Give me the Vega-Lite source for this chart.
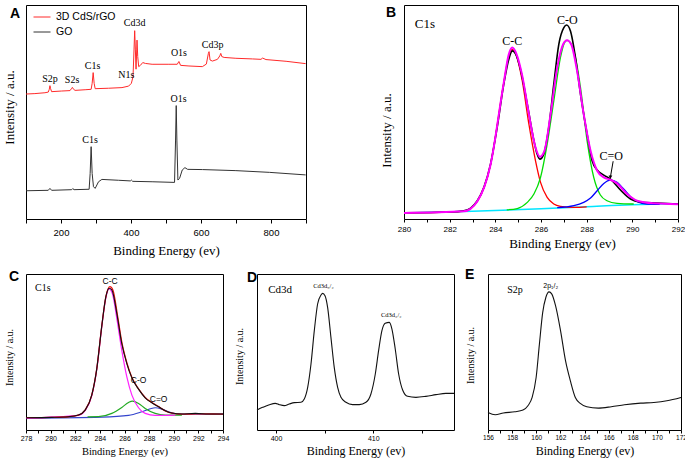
{
"$schema": "https://vega.github.io/schema/vega-lite/v6.json",
"background": "white",
"padding": {"left": 2, "top": 4, "right": 3, "bottom": 0},
"config": {
  "view": {"stroke": "#000", "strokeWidth": 1},
  "axis": {"domain": false, "grid": false, "tickColor": "#000", "tickWidth": 1, "labelColor": "#000", "titleColor": "#000", "titleFont": "Liberation Serif", "titleFontWeight": "normal", "labelFont": "Liberation Sans", "labelFlush": false, "labelOverlap": false},
  "axisY": {"ticks": false, "labels": false, "tickSize": 0, "labelPadding": 0},
  "title": {"font": "Liberation Sans", "fontSize": 14, "fontWeight": "bold", "color": "#000", "anchor": "start", "frame": "group", "orient": "top", "baseline": "top", "offset": 0}
},
"datasets": {
  "a": [
    {"x":100,"y":58.4,"s":"3D CdS/rGO"},{"x":125.4,"y":58.6,"s":"3D CdS/rGO"},{"x":154.1,"y":59.0,"s":"3D CdS/rGO"},{"x":163.6,"y":59.3,"s":"3D CdS/rGO"},{"x":166.5,"y":60.6,"s":"3D CdS/rGO"},{"x":168.4,"y":62.3,"s":"3D CdS/rGO"},{"x":170.3,"y":60.9,"s":"3D CdS/rGO"},{"x":173.2,"y":59.5,"s":"3D CdS/rGO"},{"x":201.9,"y":59.8,"s":"3D CdS/rGO"},{"x":225.8,"y":60.0,"s":"3D CdS/rGO"},{"x":229.7,"y":60.9,"s":"3D CdS/rGO"},{"x":232.5,"y":61.5,"s":"3D CdS/rGO"},{"x":235.4,"y":60.7,"s":"3D CdS/rGO"},{"x":240.2,"y":60.1,"s":"3D CdS/rGO"},{"x":268.9,"y":60.4,"s":"3D CdS/rGO"},{"x":286.1,"y":60.6,"s":"3D CdS/rGO"},{"x":289.0,"y":63.4,"s":"3D CdS/rGO"},{"x":291.9,"y":68.4,"s":"3D CdS/rGO"},{"x":294.7,"y":63.4,"s":"3D CdS/rGO"},{"x":297.6,"y":60.9,"s":"3D CdS/rGO"},{"x":335.9,"y":61.1,"s":"3D CdS/rGO"},{"x":374.2,"y":61.4,"s":"3D CdS/rGO"},{"x":393.3,"y":62.1,"s":"3D CdS/rGO"},{"x":401.0,"y":63.4,"s":"3D CdS/rGO"},{"x":405.8,"y":66.5,"s":"3D CdS/rGO"},{"x":408.6,"y":79.0,"s":"3D CdS/rGO"},{"x":410.5,"y":88.0,"s":"3D CdS/rGO"},{"x":412.5,"y":79.0,"s":"3D CdS/rGO"},{"x":414.4,"y":70.0,"s":"3D CdS/rGO"},{"x":416.3,"y":79.0,"s":"3D CdS/rGO"},{"x":417.2,"y":83.6,"s":"3D CdS/rGO"},{"x":419.2,"y":75.9,"s":"3D CdS/rGO"},{"x":422.0,"y":71.2,"s":"3D CdS/rGO"},{"x":426.8,"y":71.8,"s":"3D CdS/rGO"},{"x":433.5,"y":73.1,"s":"3D CdS/rGO"},{"x":441.2,"y":72.7,"s":"3D CdS/rGO"},{"x":460.3,"y":72.3,"s":"3D CdS/rGO"},{"x":508.2,"y":72.3,"s":"3D CdS/rGO"},{"x":532.1,"y":72.3,"s":"3D CdS/rGO"},{"x":536.9,"y":73.6,"s":"3D CdS/rGO"},{"x":541.6,"y":71.8,"s":"3D CdS/rGO"},{"x":565.6,"y":71.5,"s":"3D CdS/rGO"},{"x":603.9,"y":71.2,"s":"3D CdS/rGO"},{"x":615.3,"y":72.4,"s":"3D CdS/rGO"},{"x":621.1,"y":77.4,"s":"3D CdS/rGO"},{"x":623.0,"y":78.2,"s":"3D CdS/rGO"},{"x":625.9,"y":74.3,"s":"3D CdS/rGO"},{"x":632.6,"y":73.8,"s":"3D CdS/rGO"},{"x":647.0,"y":74.6,"s":"3D CdS/rGO"},{"x":653.7,"y":76.2,"s":"3D CdS/rGO"},{"x":656.5,"y":77.4,"s":"3D CdS/rGO"},{"x":659.4,"y":75.9,"s":"3D CdS/rGO"},{"x":666.1,"y":75.5,"s":"3D CdS/rGO"},{"x":699.6,"y":75.1,"s":"3D CdS/rGO"},{"x":747.4,"y":74.8,"s":"3D CdS/rGO"},{"x":771.3,"y":74.6,"s":"3D CdS/rGO"},{"x":776.1,"y":75.2,"s":"3D CdS/rGO"},{"x":785.7,"y":74.5,"s":"3D CdS/rGO"},{"x":843.1,"y":73.7,"s":"3D CdS/rGO"},{"x":899,"y":72.6,"s":"3D CdS/rGO"},
    {"x":100,"y":13.2,"s":"GO"},{"x":163.6,"y":13.4,"s":"GO"},{"x":168.4,"y":14.3,"s":"GO"},{"x":173.2,"y":13.4,"s":"GO"},{"x":230.6,"y":13.7,"s":"GO"},{"x":233.5,"y":14.2,"s":"GO"},{"x":237.3,"y":13.7,"s":"GO"},{"x":280.4,"y":13.9,"s":"GO"},{"x":283.3,"y":21.3,"s":"GO"},{"x":286.1,"y":33.8,"s":"GO"},{"x":289.0,"y":21.3,"s":"GO"},{"x":292.8,"y":15.1,"s":"GO"},{"x":297.6,"y":14.3,"s":"GO"},{"x":307.2,"y":17.4,"s":"GO"},{"x":316.8,"y":18.5,"s":"GO"},{"x":364.6,"y":18.1,"s":"GO"},{"x":398.1,"y":17.8,"s":"GO"},{"x":401.0,"y":18.2,"s":"GO"},{"x":404.8,"y":17.6,"s":"GO"},{"x":460.3,"y":17.4,"s":"GO"},{"x":524.4,"y":17.1,"s":"GO"},{"x":527.3,"y":36.9,"s":"GO"},{"x":529.2,"y":53.0,"s":"GO"},{"x":531.1,"y":36.9,"s":"GO"},{"x":534.0,"y":18.2,"s":"GO"},{"x":538.8,"y":19.0,"s":"GO"},{"x":546.4,"y":22.9,"s":"GO"},{"x":554.1,"y":24.0,"s":"GO"},{"x":561.7,"y":23.2,"s":"GO"},{"x":603.9,"y":23.1,"s":"GO"},{"x":699.6,"y":22.6,"s":"GO"},{"x":795.3,"y":21.8,"s":"GO"},{"x":899,"y":20.6,"s":"GO"}
  ],
  "a_lab": [
    {"x":168.4,"y":65.4,"t":"S2p"},{"x":231.6,"y":64.8,"t":"S2s"},{"x":290,"y":71.3,"t":"C1s"},{"x":386.6,"y":67.1,"t":"N1s"},{"x":410.5,"y":91.4,"t":"Cd3d"},{"x":537,"y":77.4,"t":"O1s"},{"x":633.4,"y":81.3,"t":"Cd3p"},{"x":283.3,"y":36.8,"t":"C1s"},{"x":535.9,"y":56.0,"t":"O1s"}
  ],
  "b": [
    {"x":280,"y":2.8,"s":"base"},{"x":283,"y":3.6,"s":"base"},{"x":286,"y":4.8,"s":"base"},{"x":288,"y":5.75,"s":"base"},{"x":290,"y":6.69,"s":"base"},{"x":292,"y":7.15,"s":"base"},
    {"x":280,"y":2.8,"s":"cc"},{"x":282.62,"y":3.58,"s":"cc"},{"x":283.21,"y":8.24,"s":"cc"},{"x":283.79,"y":25.35,"s":"cc"},{"x":284.37,"y":63.76,"s":"cc"},{"x":284.59,"y":76.2,"s":"cc"},{"x":284.74,"y":79.3,"s":"cc"},{"x":284.93,"y":76.2,"s":"cc"},{"x":285.18,"y":64.5,"s":"cc"},{"x":285.47,"y":44.3,"s":"cc"},{"x":285.76,"y":27.2,"s":"cc"},{"x":285.98,"y":17.1,"s":"cc"},{"x":286.27,"y":10.1,"s":"cc"},{"x":286.56,"y":7.0,"s":"cc"},{"x":286.85,"y":5.9,"s":"cc"},{"x":287.44,"y":5.4,"s":"cc"},{"x":288.0,"y":5.7,"s":"cc"},
    {"x":284.5,"y":4.3,"s":"co"},{"x":284.96,"y":4.9,"s":"co"},{"x":285.40,"y":7.78,"s":"co"},{"x":285.69,"y":11.66,"s":"co"},{"x":285.98,"y":19.44,"s":"co"},{"x":286.27,"y":34.99,"s":"co"},{"x":286.56,"y":55.21,"s":"co"},{"x":286.85,"y":75.43,"s":"co"},{"x":287.03,"y":82.43,"s":"co"},{"x":287.14,"y":83.51,"s":"co"},{"x":287.29,"y":82.43,"s":"co"},{"x":287.51,"y":75.43,"s":"co"},{"x":287.73,"y":61.43,"s":"co"},{"x":288.02,"y":36.55,"s":"co"},{"x":288.31,"y":19.44,"s":"co"},{"x":288.60,"y":11.2,"s":"co"},{"x":288.89,"y":8.55,"s":"co"},{"x":289.33,"y":7.31,"s":"co"},{"x":290.06,"y":7.0,"s":"co"},
    {"x":286.71,"y":5.29,"s":"ceo"},{"x":287.44,"y":6.22,"s":"ceo"},{"x":287.87,"y":7.78,"s":"ceo"},{"x":288.17,"y":9.8,"s":"ceo"},{"x":288.46,"y":13.22,"s":"ceo"},{"x":288.75,"y":16.64,"s":"ceo"},{"x":289.04,"y":18.2,"s":"ceo"},{"x":289.33,"y":17.1,"s":"ceo"},{"x":289.62,"y":14.0,"s":"ceo"},{"x":289.92,"y":10.42,"s":"ceo"},{"x":290.21,"y":8.09,"s":"ceo"},{"x":290.64,"y":7.0,"s":"ceo"},{"x":291.2,"y":6.9,"s":"ceo"},
    {"x":280,"y":2.95,"s":"exp"},{"x":282.04,"y":3.27,"s":"exp"},{"x":282.62,"y":3.89,"s":"exp"},{"x":282.92,"y":5.13,"s":"exp"},{"x":283.21,"y":8.55,"s":"exp"},{"x":283.5,"y":14.77,"s":"exp"},{"x":283.79,"y":25.66,"s":"exp"},{"x":284.08,"y":42.77,"s":"exp"},{"x":284.37,"y":62.99,"s":"exp"},{"x":284.59,"y":74.65,"s":"exp"},{"x":284.74,"y":78.54,"s":"exp"},{"x":284.88,"y":77.29,"s":"exp"},{"x":285.1,"y":69.98,"s":"exp"},{"x":285.4,"y":53.65,"s":"exp"},{"x":285.69,"y":36.55,"s":"exp"},{"x":285.83,"y":30.33,"s":"exp"},{"x":285.95,"y":27.99,"s":"exp"},{"x":286.12,"y":30.33,"s":"exp"},{"x":286.34,"y":42.77,"s":"exp"},{"x":286.56,"y":62.99,"s":"exp"},{"x":286.78,"y":81.65,"s":"exp"},{"x":287.0,"y":89.42,"s":"exp"},{"x":287.12,"y":90.67,"s":"exp"},{"x":287.29,"y":87.87,"s":"exp"},{"x":287.51,"y":75.43,"s":"exp"},{"x":287.73,"y":58.32,"s":"exp"},{"x":288.02,"y":39.66,"s":"exp"},{"x":288.24,"y":27.22,"s":"exp"},{"x":288.46,"y":22.86,"s":"exp"},{"x":288.75,"y":20.53,"s":"exp"},{"x":289.04,"y":18.66,"s":"exp"},{"x":289.48,"y":13.53,"s":"exp"},{"x":289.92,"y":9.33,"s":"exp"},{"x":290.35,"y":7.93,"s":"exp"},{"x":291.08,"y":7.47,"s":"exp"},{"x":292,"y":7.0,"s":"exp"},
    {"x":280,"y":2.8,"s":"fit"},{"x":282.62,"y":3.58,"s":"fit"},{"x":283.21,"y":8.24,"s":"fit"},{"x":283.79,"y":25.35,"s":"fit"},{"x":284.37,"y":63.76,"s":"fit"},{"x":284.59,"y":76.98,"s":"fit"},{"x":284.74,"y":80.09,"s":"fit"},{"x":284.93,"y":76.98,"s":"fit"},{"x":285.18,"y":66.87,"s":"fit"},{"x":285.47,"y":48.99,"s":"fit"},{"x":285.76,"y":33.44,"s":"fit"},{"x":285.95,"y":29.08,"s":"fit"},{"x":286.15,"y":31.88,"s":"fit"},{"x":286.42,"y":48.99,"s":"fit"},{"x":286.71,"y":70.76,"s":"fit"},{"x":286.97,"y":81.65,"s":"fit"},{"x":287.14,"y":83.51,"s":"fit"},{"x":287.32,"y":81.65,"s":"fit"},{"x":287.58,"y":69.21,"s":"fit"},{"x":287.87,"y":48.99,"s":"fit"},{"x":288.17,"y":31.88,"s":"fit"},{"x":288.46,"y":22.55,"s":"fit"},{"x":288.75,"y":19.44,"s":"fit"},{"x":289.04,"y":18.35,"s":"fit"},{"x":289.33,"y":16.64,"s":"fit"},{"x":289.77,"y":11.66,"s":"fit"},{"x":290.21,"y":8.55,"s":"fit"},{"x":290.94,"y":7.31,"s":"fit"},{"x":292,"y":6.84,"s":"fit"}
  ],
  "b_lab": [
    {"x":284.74,"y":83.0,"t":"C-C","k":"peak"},{"x":287.15,"y":92.8,"t":"C-O","k":"peak"},{"x":289.07,"y":29.5,"t":"C=O","k":"peak"},{"x":280.47,"y":91,"t":"C1s","k":"head"}
  ],
  "b_arrow": [{"x":289.16,"y":27.0,"x2":289.04,"y2":19.6}],
  "c": [
    {"x":278.05,"y":7.87,"s":"exp"},{"x":280.09,"y":8.09,"s":"exp"},{"x":281.44,"y":8.51,"s":"exp"},{"x":282.26,"y":9.57,"s":"exp"},{"x":282.8,"y":12.77,"s":"exp"},{"x":283.34,"y":22.34,"s":"exp"},{"x":283.75,"y":39.36,"s":"exp"},{"x":284.16,"y":67.02,"s":"exp"},{"x":284.48,"y":85.11,"s":"exp"},{"x":284.75,"y":90.85,"s":"exp"},{"x":284.97,"y":89.79,"s":"exp"},{"x":285.38,"y":74.47,"s":"exp"},{"x":285.78,"y":55.32,"s":"exp"},{"x":286.19,"y":42.55,"s":"exp"},{"x":286.6,"y":33.4,"s":"exp"},{"x":287.14,"y":26.17,"s":"exp"},{"x":287.68,"y":20.64,"s":"exp"},{"x":288.22,"y":17.45,"s":"exp"},{"x":288.77,"y":14.89,"s":"exp"},{"x":289.31,"y":12.34,"s":"exp"},{"x":289.85,"y":10.85,"s":"exp"},{"x":290.66,"y":10.21,"s":"exp"},{"x":291.75,"y":10.64,"s":"exp"},{"x":292.83,"y":10.21,"s":"exp"},{"x":294,"y":10.21,"s":"exp"},
    {"x":278.05,"y":7.9,"s":"env"},{"x":280.09,"y":8.1,"s":"env"},{"x":281.44,"y":8.5,"s":"env"},{"x":282.26,"y":9.6,"s":"env"},{"x":282.8,"y":12.8,"s":"env"},{"x":283.34,"y":22.3,"s":"env"},{"x":283.75,"y":39.4,"s":"env"},{"x":284.16,"y":67.0,"s":"env"},{"x":284.5,"y":86.0,"s":"env"},{"x":284.82,"y":91.9,"s":"env"},{"x":285.07,"y":89.5,"s":"env"},{"x":285.42,"y":74.0,"s":"env"},{"x":285.8,"y":55.5,"s":"env"},{"x":286.2,"y":42.8,"s":"env"},{"x":286.6,"y":33.6,"s":"env"},{"x":287.14,"y":26.3,"s":"env"},{"x":287.68,"y":20.8,"s":"env"},{"x":288.22,"y":17.6,"s":"env"},{"x":288.77,"y":15.0,"s":"env"},{"x":289.31,"y":12.3,"s":"env"},{"x":289.85,"y":10.8,"s":"env"},{"x":290.66,"y":10.2,"s":"env"},{"x":292,"y":10.3,"s":"env"},{"x":294,"y":10.2,"s":"env"},
    {"x":278.05,"y":7.66,"s":"cc"},{"x":282.26,"y":9.36,"s":"cc"},{"x":282.8,"y":12.34,"s":"cc"},{"x":283.34,"y":21.91,"s":"cc"},{"x":283.75,"y":38.94,"s":"cc"},{"x":284.16,"y":66.6,"s":"cc"},{"x":284.48,"y":84.47,"s":"cc"},{"x":284.75,"y":90.43,"s":"cc"},{"x":285.02,"y":87.23,"s":"cc"},{"x":285.38,"y":71.28,"s":"cc"},{"x":285.78,"y":51.06,"s":"cc"},{"x":286.19,"y":34.04,"s":"cc"},{"x":286.6,"y":22.34,"s":"cc"},{"x":287.14,"y":14.26,"s":"cc"},{"x":287.68,"y":10.64,"s":"cc"},{"x":288.49,"y":9.36,"s":"cc"},{"x":290.12,"y":9.57,"s":"cc"},
    {"x":283.0,"y":8.4,"s":"co"},{"x":283.88,"y":8.51,"s":"co"},{"x":284.97,"y":10.64,"s":"co"},{"x":285.78,"y":14.47,"s":"co"},{"x":286.33,"y":17.66,"s":"co"},{"x":286.65,"y":18.51,"s":"co"},{"x":287.14,"y":17.02,"s":"co"},{"x":287.68,"y":13.83,"s":"co"},{"x":288.49,"y":10.64,"s":"co"},{"x":289.31,"y":9.57,"s":"co"},{"x":290.66,"y":9.57,"s":"co"},
    {"x":278.05,"y":7.66,"s":"ceo"},{"x":284.16,"y":8.3,"s":"ceo"},{"x":286.33,"y":9.36,"s":"ceo"},{"x":287.41,"y":11.7,"s":"ceo"},{"x":288.09,"y":13.62,"s":"ceo"},{"x":288.49,"y":14.26,"s":"ceo"},{"x":289.04,"y":13.4,"s":"ceo"},{"x":289.58,"y":11.7,"s":"ceo"},{"x":290.39,"y":10.21,"s":"ceo"},{"x":294,"y":10.21,"s":"ceo"}
  ],
  "c_lab": [
    {"x":284.83,"y":95.5,"t":"C-C","k":"peak"},{"x":287.14,"y":32.3,"t":"C-O","k":"peak"},{"x":288.77,"y":19.6,"t":"C=O","k":"peak"},{"x":278.73,"y":90.9,"t":"C1s","k":"head"}
  ],
  "d": [
    {"x":398.05,"y":12.82},{"x":398.63,"y":14.53},{"x":399.32,"y":16.24},{"x":399.93,"y":17.09},{"x":400.34,"y":16.24},{"x":400.86,"y":15.6},{"x":401.37,"y":16.67},{"x":401.89,"y":17.52},{"x":402.57,"y":17.74},{"x":402.91,"y":19.87},{"x":403.26,"y":27.35},{"x":403.6,"y":42.31},{"x":403.94,"y":63.68},{"x":404.28,"y":80.77},{"x":404.63,"y":86.54},{"x":404.8,"y":87.61},{"x":405.04,"y":86.11},{"x":405.31,"y":78.63},{"x":405.65,"y":59.4},{"x":405.99,"y":40.17},{"x":406.34,"y":27.35},{"x":406.68,"y":20.94},{"x":407.19,"y":17.74},{"x":407.88,"y":16.24},{"x":408.56,"y":16.24},{"x":409.25,"y":17.74},{"x":409.76,"y":23.08},{"x":410.21,"y":35.9},{"x":410.55,"y":50.85},{"x":410.89,"y":63.68},{"x":411.23,"y":68.38},{"x":411.65,"y":69.02},{"x":411.92,"y":64.74},{"x":412.26,"y":51.92},{"x":412.61,"y":35.9},{"x":413.02,"y":25.64},{"x":413.53,"y":21.58},{"x":414.39,"y":20.94},{"x":415.41,"y":21.58},{"x":416.44,"y":22.65},{"x":417.47,"y":23.5},{"x":418.3,"y":23.5}
  ],
  "d_lab": [{"x":404.88,"y":92.5,"t":"Cd3d₅/₂","k":"peak"},{"x":411.85,"y":73.9,"t":"Cd3d₃/₂","k":"peak"},{"x":399.2,"y":89.5,"t":"Cd3d","k":"head"}],
  "e": [
    {"x":156.0,"y":11.28},{"x":156.6,"y":9.79},{"x":157.27,"y":10.85},{"x":158.22,"y":11.7},{"x":158.9,"y":12.77},{"x":159.31,"y":15.53},{"x":159.66,"y":20.85},{"x":159.99,"y":33.62},{"x":160.26,"y":54.89},{"x":160.53,"y":75.11},{"x":160.8,"y":85.11},{"x":161.06,"y":88.51},{"x":161.28,"y":87.23},{"x":161.61,"y":79.36},{"x":162.02,"y":63.4},{"x":162.43,"y":44.26},{"x":162.83,"y":31.49},{"x":163.24,"y":20.85},{"x":163.65,"y":17.02},{"x":164.19,"y":14.89},{"x":165.14,"y":14.04},{"x":166.22,"y":14.89},{"x":167.31,"y":16.17},{"x":168.66,"y":17.23},{"x":169.75,"y":17.66},{"x":170.83,"y":18.72},{"x":172.0,"y":20.85}
  ],
  "e_lab": [{"x":161.2,"y":92.5,"t":"2p₁/₂","k":"peak"},{"x":157.6,"y":89.5,"t":"S2p","k":"head"}]
},
"spacing": 9,
"vconcat": [
  {"hconcat": [
    {"width": 280, "height": 214,
     "title": {"text": "A", "dx": -16, "dy": 20},
     "encoding": {
       "x": {"field": "x", "type": "quantitative", "scale": {"domain": [100, 900], "nice": false, "zero": false},
             "axis": {"title": "Binding Energy (ev)", "values": [100,200,300,400,500,600,700,800,900], "labelExpr": "datum.value % 200 == 0 ? datum.label : ''", "tickSize": 4, "labelFontSize": 9.5, "labelPadding": 4, "titleFontSize": 13, "titlePadding": 8}},
       "y": {"field": "y", "type": "quantitative", "scale": {"domain": [0, 100], "nice": false, "zero": false},
             "axis": {"title": "Intensity / a.u.", "titleFontSize": 13, "titlePadding": 10, "titleY": 102}}
     },
     "layer": [
       {"data": {"name": "a"}, "mark": {"type": "line", "strokeWidth": 1},
        "encoding": {"color": {"field": "s", "type": "nominal", "scale": {"domain": ["3D CdS/rGO", "GO"], "range": ["#ff2a2a", "#333333"]},
          "legend": {"orient": "none", "legendX": 7, "legendY": 3, "title": null, "symbolType": "stroke", "symbolSize": 289, "symbolStrokeWidth": 1, "labelFont": "Liberation Sans", "labelFontSize": 10.5, "labelColor": "#000", "labelOffset": 5, "rowPadding": 0, "padding": 0}}}},
       {"data": {"name": "a_lab"}, "mark": {"type": "text", "font": "Liberation Serif", "fontSize": 10, "color": "#000", "baseline": "middle"},
        "encoding": {"text": {"field": "t"}}}
     ]},
    {"width": 274, "height": 214,
     "title": {"text": "B", "dx": -18, "dy": 19},
     "encoding": {
       "x": {"field": "x", "type": "quantitative", "scale": {"domain": [280, 292], "nice": false, "zero": false},
             "axis": {"title": "Binding Energy (ev)", "values": [280,281,282,283,284,285,286,287,288,289,290,291,292], "labelExpr": "datum.value % 2 == 0 ? datum.label : ''", "tickSize": 3, "labelFontSize": 8, "labelPadding": 3, "titleFontSize": 13, "titlePadding": 4, "titleX": 158}},
       "y": {"field": "y", "type": "quantitative", "scale": {"domain": [0, 100], "nice": false, "zero": false},
             "axis": {"title": "Intensity / a.u.", "titleFontSize": 13, "titlePadding": 11, "titleY": 125}}
     },
     "layer": [
       {"data": {"name": "b"}, "transform": [{"filter": "datum.s == 'base'"}], "mark": {"type": "line", "color": "#00e5ff", "strokeWidth": 1.5, "interpolate": "monotone"}},
       {"data": {"name": "b"}, "transform": [{"filter": "datum.s == 'cc'"}], "mark": {"type": "line", "color": "#ff0000", "strokeWidth": 1.3, "interpolate": "monotone"}},
       {"data": {"name": "b"}, "transform": [{"filter": "datum.s == 'co'"}], "mark": {"type": "line", "color": "#00dd00", "strokeWidth": 1.3, "interpolate": "monotone"}},
       {"data": {"name": "b"}, "transform": [{"filter": "datum.s == 'ceo'"}], "mark": {"type": "line", "color": "#0000ff", "strokeWidth": 1.3, "interpolate": "monotone"}},
       {"data": {"name": "b"}, "transform": [{"filter": "datum.s == 'exp'"}], "mark": {"type": "line", "color": "#000000", "strokeWidth": 1.6, "interpolate": "monotone"}},
       {"data": {"name": "b"}, "transform": [{"filter": "datum.s == 'fit'"}], "mark": {"type": "line", "color": "#ff00ff", "strokeWidth": 2, "interpolate": "monotone"}},
       {"data": {"name": "b_arrow"}, "mark": {"type": "rule", "color": "#000", "strokeWidth": 1},
        "encoding": {"x2": {"field": "x2"}, "y2": {"field": "y2"}}},
       {"data": {"name": "b_arrow"}, "mark": {"type": "point", "shape": "triangle-down", "filled": true, "color": "#000", "size": 14, "opacity": 1},
        "encoding": {"x": {"field": "x2", "type": "quantitative"}, "y": {"field": "y2", "type": "quantitative"}}},
       {"data": {"name": "b_lab"}, "transform": [{"filter": "datum.k == 'peak'"}], "mark": {"type": "text", "font": "Liberation Serif", "fontSize": 12, "color": "#000", "baseline": "middle"},
        "encoding": {"text": {"field": "t"}}},
       {"data": {"name": "b_lab"}, "transform": [{"filter": "datum.k == 'head'"}], "mark": {"type": "text", "font": "Liberation Serif", "fontSize": 13, "color": "#000", "baseline": "middle", "align": "left"},
        "encoding": {"text": {"field": "t"}}}
     ]}
  ], "spacing": 98, "bounds": "flush"},
  {"hconcat": [
    {"width": 197, "height": 156,
     "title": {"text": "C", "dx": -17, "dy": 14},
     "encoding": {
       "x": {"field": "x", "type": "quantitative", "scale": {"domain": [278, 294], "nice": false, "zero": false},
             "axis": {"title": "Binding Energy (ev)", "values": [278,279,280,281,282,283,284,285,286,287,288,289,290,291,292,293,294], "labelExpr": "datum.value % 2 == 0 ? datum.label : ''", "tickSize": 3, "labelFontSize": 7, "labelPadding": 1.5, "titleFontSize": 10.5, "titlePadding": 5}},
       "y": {"field": "y", "type": "quantitative", "scale": {"domain": [0, 100], "nice": false, "zero": false},
             "axis": {"title": "Intensity / a.u.", "titleFontSize": 10, "titlePadding": 12, "titleY": 83}}
     },
     "layer": [
       {"data": {"name": "c"}, "transform": [{"filter": "datum.s == 'ceo'"}], "mark": {"type": "line", "color": "#3344cc", "strokeWidth": 1.2, "interpolate": "monotone"}},
       {"data": {"name": "c"}, "transform": [{"filter": "datum.s == 'co'"}], "mark": {"type": "line", "color": "#22aa22", "strokeWidth": 1.2, "interpolate": "monotone"}},
       {"data": {"name": "c"}, "transform": [{"filter": "datum.s == 'cc'"}], "mark": {"type": "line", "color": "#ff22ff", "strokeWidth": 1.2, "interpolate": "monotone"}},
       {"data": {"name": "c"}, "transform": [{"filter": "datum.s == 'env'"}], "mark": {"type": "line", "color": "#ee1111", "strokeWidth": 1.3, "interpolate": "monotone"}},
       {"data": {"name": "c"}, "transform": [{"filter": "datum.s == 'exp'"}], "mark": {"type": "line", "color": "#111111", "strokeWidth": 1.1, "interpolate": "monotone"}},
       {"data": {"name": "c_lab"}, "transform": [{"filter": "datum.k == 'peak'"}], "mark": {"type": "text", "font": "Liberation Sans", "fontSize": 8.5, "color": "#000", "baseline": "middle"},
        "encoding": {"text": {"field": "t"}}},
       {"data": {"name": "c_lab"}, "transform": [{"filter": "datum.k == 'head'"}], "mark": {"type": "text", "font": "Liberation Serif", "fontSize": 10, "color": "#000", "baseline": "middle", "align": "left"},
        "encoding": {"text": {"field": "t"}}}
     ]},
    {"width": 197, "height": 156,
     "title": {"text": "D", "dx": -10, "dy": 15},
     "encoding": {
       "x": {"field": "x", "type": "quantitative", "scale": {"domain": [398.05, 418.3], "nice": false, "zero": false},
             "axis": {"title": "Binding Energy (ev)", "values": [400,405,410,415], "labelExpr": "datum.value % 10 == 0 ? datum.label : ''", "tickSize": 3, "labelFontSize": 7, "labelPadding": 1.5, "titleFontSize": 12, "titlePadding": 4}},
       "y": {"field": "y", "type": "quantitative", "scale": {"domain": [0, 100], "nice": false, "zero": false},
             "axis": {"title": "Intensity / a.u.", "titleFontSize": 10, "titlePadding": 13, "titleY": 82}}
     },
     "layer": [
       {"data": {"name": "d"}, "mark": {"type": "line", "color": "#111111", "strokeWidth": 1.1, "interpolate": "monotone"}},
       {"data": {"name": "d_lab"}, "transform": [{"filter": "datum.k == 'peak'"}], "mark": {"type": "text", "font": "Liberation Serif", "fontSize": 6.5, "color": "#000", "baseline": "middle"},
        "encoding": {"text": {"field": "t"}}},
       {"data": {"name": "d_lab"}, "transform": [{"filter": "datum.k == 'head'"}], "mark": {"type": "text", "font": "Liberation Serif", "fontSize": 11, "color": "#000", "baseline": "middle", "align": "left"},
        "encoding": {"text": {"field": "t"}}}
     ]},
    {"width": 193, "height": 156,
     "title": {"text": "E", "dx": -23, "dy": 12},
     "encoding": {
       "x": {"field": "x", "type": "quantitative", "scale": {"domain": [156, 172], "nice": false, "zero": false},
             "axis": {"title": "Binding Energy (ev)", "values": [156,157,158,159,160,161,162,163,164,165,166,167,168,169,170,171,172], "labelExpr": "datum.value % 2 == 0 ? datum.label : ''", "tickSize": 3, "labelFontSize": 6.5, "labelPadding": 1.5, "titleFontSize": 12, "titlePadding": 4}},
       "y": {"field": "y", "type": "quantitative", "scale": {"domain": [0, 100], "nice": false, "zero": false},
             "axis": {"title": "Intensity / a.u.", "titleFontSize": 10, "titlePadding": 13, "titleY": 81}}
     },
     "layer": [
       {"data": {"name": "e"}, "mark": {"type": "line", "color": "#111111", "strokeWidth": 1.1, "interpolate": "monotone"}},
       {"data": {"name": "e_lab"}, "transform": [{"filter": "datum.k == 'peak'"}], "mark": {"type": "text", "font": "Liberation Sans", "fontSize": 7, "color": "#000", "baseline": "middle"},
        "encoding": {"text": {"field": "t"}}},
       {"data": {"name": "e_lab"}, "transform": [{"filter": "datum.k == 'head'"}], "mark": {"type": "text", "font": "Liberation Serif", "fontSize": 10, "color": "#000", "baseline": "middle", "align": "left"},
        "encoding": {"text": {"field": "t"}}}
     ]}
  ], "spacing": 34, "bounds": "flush"}
]
}
